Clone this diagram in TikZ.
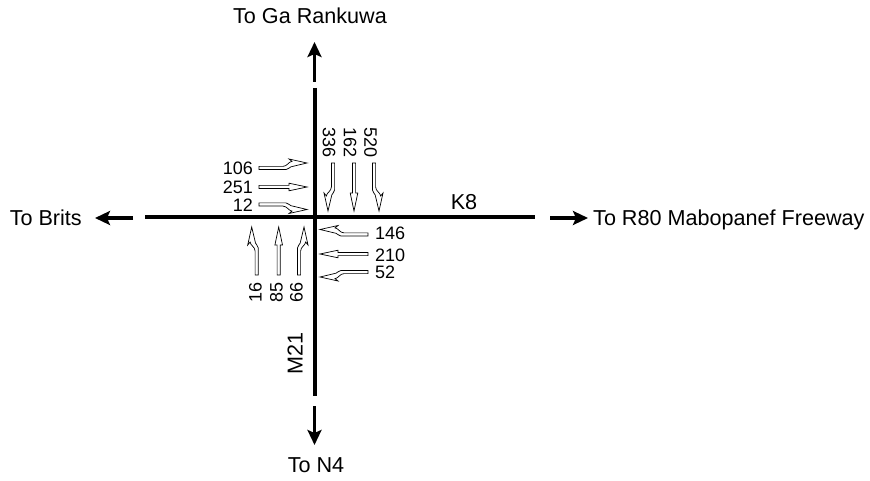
\documentclass[tikz,border=0pt]{standalone}
\usepackage{fontspec}
\setmainfont{Liberation Sans}
\usetikzlibrary{arrows.meta}
\newcommand\lanestraight[3]{\begin{scope}[shift={(#1,#2)},rotate=#3]\draw[lane] (0,-1.6) -- (30,-1.6) -- (30,-3.8) -- (48,0) -- (30,3.8) -- (30,1.6) -- (0,1.6) -- cycle;\end{scope}}
\newcommand\laneturn[4]{\begin{scope}[shift={(#1,#2)},rotate=#3,yscale=#4]\draw[lane] (0,1.6) -- (27,1.6) .. controls (30,1.6) and (30,-1.2) .. (32,-1.2) -- (48,-5) -- (30,-9) -- (33,-6.6) .. controls (30,-6.6) and (28,-1.6) .. (24,-1.6) -- (0,-1.6) -- cycle;\end{scope}}
\begin{document}
\begin{tikzpicture}[x=1pt,y=-1pt,
 road/.style={line width=4pt},
 mainarr/.style={line width=3.3pt,-{Stealth[length=15pt,width=14pt,inset=3pt]}},
 lane/.style={draw=black,fill=white,line width=0.7pt,line join=miter},
 bigtxt/.style={font=\fontsize{21.6}{26}\selectfont,inner sep=0pt},
 numtxt/.style={font=\fontsize{18}{21}\selectfont,inner sep=0pt}]
\useasboundingbox (0,0) rectangle (870,481);
% roads
\coordinate (vt) at (314.5,88); \coordinate (vb) at (314.5,396);
\coordinate (hl) at (145,217); \coordinate (hr) at (535,217);
\draw[road] (vt) -- (vb);
\draw[road] (hl) -- (hr);
% direction arrows
\coordinate (ns) at (314.5,82); \coordinate (nt) at (314.5,42);
\coordinate (ss) at (314.5,406); \coordinate (st) at (314.5,445);
\coordinate (ws) at (133,218); \coordinate (wt) at (95,218);
\coordinate (es) at (550,218); \coordinate (et) at (588,218);
\draw[mainarr] (ns) -- (nt);
\draw[mainarr] (ss) -- (st);
\draw[mainarr] (ws) -- (wt);
\draw[mainarr] (es) -- (et);
% labels
\node[bigtxt] (ga) at (310,16) {To Ga Rankuwa};
\node[bigtxt] (n4) at (316,465.5) {To N4};
\node[bigtxt,anchor=east] (brits) at (82,218) {To Brits};
\node[bigtxt,anchor=base west] (r80) at (593,225.5) {To R80 Mabopanef Freeway};
\node[bigtxt] (k8) at (464,202.5) {K8};
\node[bigtxt,rotate=90] (m21) at (295,353.5) {M21};
% eastbound lanes
\laneturn{259}{168}{0}{1}
\lanestraight{259}{187}{0}
\laneturn{259}{204.5}{0}{-1}
\node[numtxt,anchor=east] (e106) at (253,168.3) {106};
\node[numtxt,anchor=east] (e251) at (253,187) {251};
\node[numtxt,anchor=east] (e12) at (253,205.5) {12};
% southbound lanes
\laneturn{333}{163}{-90}{-1}
\lanestraight{354}{163}{-90}
\laneturn{374}{163}{-90}{1}
\node[numtxt,rotate=-90] (s336) at (329,143) {336};
\node[numtxt,rotate=-90] (s162) at (350,143) {162};
\node[numtxt,rotate=-90] (s520) at (370.5,143) {520};
% northbound lanes
\laneturn{256.7}{275}{90}{1}
\lanestraight{278.7}{275}{90}
\laneturn{299}{275}{90}{-1}
\node[numtxt,rotate=90] (n16) at (255.5,292) {16};
\node[numtxt,rotate=90] (n85) at (276.5,292) {85};
\node[numtxt,rotate=90] (n66) at (296.5,292) {66};
% westbound lanes
\laneturn{368}{234.5}{180}{-1}
\lanestraight{368}{254}{180}
\laneturn{368}{272}{180}{1}
\node[numtxt,anchor=west] (w146) at (375,233.5) {146};
\node[numtxt,anchor=west] (w210) at (375,255) {210};
\node[numtxt,anchor=west] (w52) at (375,272.8) {52};
\end{tikzpicture}
\end{document}
